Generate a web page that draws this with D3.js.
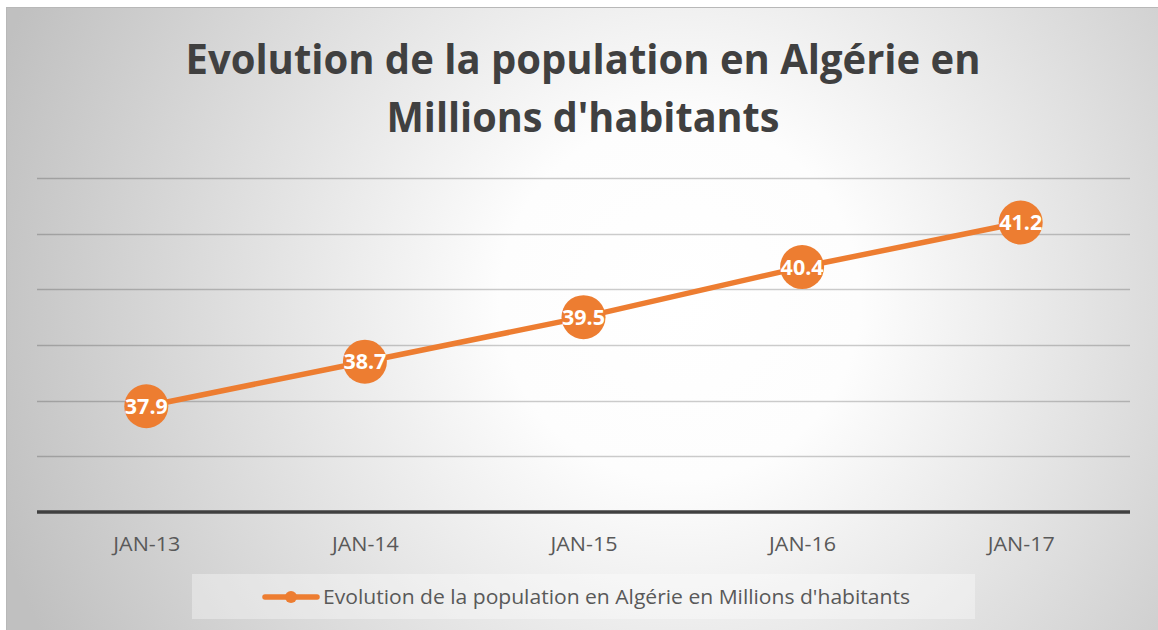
<!DOCTYPE html>
<html>
<head>
<meta charset="utf-8">
<script src="https://cdn.jsdelivr.net/npm/d3@7/dist/d3.min.js"></script>
<style>
html,body{margin:0;padding:0;background:#fff;}
svg{display:block;}
</style>
</head>
<body>
<svg id="chart" width="1158" height="630"></svg>
<script>
const categories = ["JAN-13","JAN-14","JAN-15","JAN-16","JAN-17"];
const values = [37.9, 38.7, 39.5, 40.4, 41.2];
const yTicks = [37, 38, 39, 40, 41, 42];
const titleLines = ["Evolution de la population en Algérie en", "Millions d'habitants"];
const seriesName = "Evolution de la population en Algérie en Millions d'habitants";

const W = 1158, H = 630;
const svg = d3.select("#chart");
const FONT = "'Open Sans', 'Noto Sans', sans-serif";
const ORANGE = "#ED7D31";

const defs = svg.append("defs");
const grad = defs.append("radialGradient").attr("id","bg")
  .attr("gradientUnits","userSpaceOnUse")
  .attr("cx",680).attr("cy",300).attr("r",720);
grad.append("stop").attr("offset","0").attr("stop-color","#ffffff");
grad.append("stop").attr("offset","0.25").attr("stop-color","#fdfdfd");
grad.append("stop").attr("offset","1").attr("stop-color","#c0c0c0");

svg.append("rect").attr("x",6.5).attr("y",7.5).attr("width",W).attr("height",H)
  .attr("fill","url(#bg)").attr("stroke","#b8b8b8").attr("stroke-width",1);

const x = d3.scalePoint().domain(categories).range([37,1130]).padding(0.5);
const y = d3.scaleLinear().domain([36,42]).range([512,178]);

// gridlines
svg.append("g").selectAll("line").data(yTicks).join("line")
  .attr("x1",37).attr("x2",1130)
  .attr("y1",d=>Math.round(y(d))+0.5).attr("y2",d=>Math.round(y(d))+0.5)
  .attr("stroke","rgba(0,0,0,0.2)").attr("stroke-width",1.3);

// x axis
const xAxis = d3.axisBottom(x).tickSize(0).tickPadding(0);
const gx = svg.append("g").attr("transform",`translate(0,${y(36)})`).call(xAxis);
gx.select(".domain").attr("d","M37,0H1130").attr("stroke","#404040").attr("stroke-width",3.5);
gx.selectAll(".tick text").attr("font-family",FONT).attr("font-size",20.5)
  .attr("fill","#595959").attr("dy",0).attr("y",39).attr("dominant-baseline","auto")
  .attr("textLength",67).attr("lengthAdjust","spacingAndGlyphs");

// title
const title = svg.append("g");
titleLines.forEach((t,i)=>{
  title.append("text").attr("x",583).attr("y",74 + i*58)
    .attr("text-anchor","middle").attr("font-family",FONT).attr("font-weight","bold")
    .attr("font-size",42).attr("fill","#404040")
    .attr("textLength", i===0 ? 795 : 393).attr("lengthAdjust","spacingAndGlyphs")
    .text(t);
});

// line
const line = d3.line().x((d,i)=>x(categories[i])).y(d=>y(d));
svg.append("path").datum(values).attr("d",line)
  .attr("fill","none").attr("stroke",ORANGE).attr("stroke-width",5.5)
  .attr("stroke-linejoin","round").attr("stroke-linecap","round");

// markers/labels
const pts = svg.append("g").selectAll("g").data(values).join("g")
  .attr("transform",(d,i)=>`translate(${x(categories[i])},${y(d)})`);
pts.append("circle").attr("r",22).attr("fill",ORANGE);
pts.append("text").attr("text-anchor","middle").attr("y",7.5)
  .attr("font-family",FONT).attr("font-weight","bold").attr("font-size",21)
  .attr("fill","#ffffff").attr("textLength",43).attr("lengthAdjust","spacingAndGlyphs")
  .text(d=>d.toFixed(1));

// legend
const lg = svg.append("g");
lg.append("rect").attr("x",192).attr("y",574).attr("width",783).attr("height",45)
  .attr("fill","rgba(255,255,255,0.35)");
lg.append("line").attr("x1",265).attr("x2",317).attr("y1",597).attr("y2",597)
  .attr("stroke",ORANGE).attr("stroke-width",5.5).attr("stroke-linecap","round");
lg.append("circle").attr("cx",291).attr("cy",597).attr("r",6).attr("fill",ORANGE);
lg.append("text").attr("x",323).attr("y",604).attr("font-family",FONT)
  .attr("font-size",20).attr("fill","#595959")
  .attr("textLength",587).attr("lengthAdjust","spacingAndGlyphs").text(seriesName);
</script>
</body>
</html>
